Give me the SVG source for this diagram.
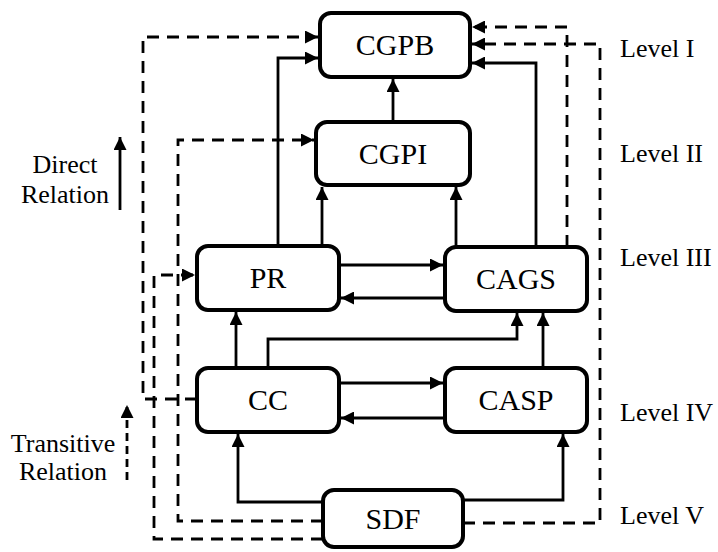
<svg xmlns="http://www.w3.org/2000/svg" width="718" height="552" viewBox="0 0 718 552">
<style>
.node rect{fill:#fff;stroke:#000;stroke-width:4}
.node text{font-family:'Liberation Serif',serif;font-size:30px;text-anchor:middle;fill:#000}
.lbl{font-family:'Liberation Serif',serif;font-size:26px;fill:#000}
.c{fill:none;stroke:#000;stroke-width:2.8;marker-end:url(#ah)}
.d{fill:none;stroke:#000;stroke-width:2.8;stroke-dasharray:12 8;marker-end:url(#ah)}
</style>
<defs>
<marker id="ah" markerUnits="userSpaceOnUse" markerWidth="13" markerHeight="13" refX="13" refY="6.5" orient="auto">
<path d="M0,0 L13,6.5 L0,13 z" fill="#000"/>
</marker>
</defs>
<rect width="718" height="552" fill="#fff"/>
<g id="connectors">
<path class="c" d="M393,122 V79"/>
<path class="c" d="M278,246 V58 H318"/>
<path class="c" d="M536,247 V63 H472"/>
<path class="c" d="M322,246 V187"/>
<path class="c" d="M456,247 V187"/>
<path class="c" d="M339,265 H443"/>
<path class="c" d="M445,298 H341"/>
<path class="c" d="M236,368 V312"/>
<path class="c" d="M268,368 V339 H517 V313"/>
<path class="c" d="M543,368 V313"/>
<path class="c" d="M339,383 H443"/>
<path class="c" d="M445,418 H341"/>
<path class="c" d="M323,502 H238 V434"/>
<path class="c" d="M463,500 H563 V434"/>
<path class="d" d="M197,399 H143 V37 H318"/>
<path class="d" d="M323,521 H178 V140 H314"/>
<path class="d" d="M323,539 H154 V275 H195"/>
<path class="d" d="M567,247 V27 H472"/>
<path class="d" d="M463,523 H600 V44 H472"/>
</g>
<g id="CGPB" class="node"><rect x="320" y="13" width="150" height="64" rx="11"/><text x="395" y="55" font-family="Liberation Serif, serif">CGPB</text></g>
<g id="CGPI" class="node"><rect x="316" y="122" width="154" height="63" rx="11"/><text x="393" y="164" font-family="Liberation Serif, serif">CGPI</text></g>
<g id="PR" class="node"><rect x="197" y="246" width="142" height="64" rx="11"/><text x="268" y="288" font-family="Liberation Serif, serif">PR</text></g>
<g id="CAGS" class="node"><rect x="445" y="247" width="142" height="64" rx="11"/><text x="516" y="289" font-family="Liberation Serif, serif">CAGS</text></g>
<g id="CC" class="node"><rect x="197" y="368" width="142" height="64" rx="11"/><text x="268" y="410" font-family="Liberation Serif, serif">CC</text></g>
<g id="CASP" class="node"><rect x="445" y="368" width="142" height="64" rx="11"/><text x="516" y="410" font-family="Liberation Serif, serif">CASP</text></g>
<g id="SDF" class="node"><rect x="323" y="490" width="140" height="57" rx="11"/><text x="393" y="529" font-family="Liberation Serif, serif">SDF</text></g>
<g id="legend">
<text class="lbl" x="65" y="173" text-anchor="middle">Direct</text>
<text class="lbl" x="65" y="203" text-anchor="middle">Relation</text>
<path class="c" d="M120,210 V137"/>
<text class="lbl" x="63" y="452" text-anchor="middle">Transitive</text>
<text class="lbl" x="63" y="480" text-anchor="middle">Relation</text>
<path class="d" d="M127,480 V405" style="stroke-dasharray:8 5"/>
</g>
<g id="levels">
<text class="lbl" x="620" y="57">Level I</text>
<text class="lbl" x="620" y="162">Level II</text>
<text class="lbl" x="620" y="266">Level III</text>
<text class="lbl" x="620" y="421">Level IV</text>
<text class="lbl" x="620" y="524">Level V</text>
</g>
</svg>
